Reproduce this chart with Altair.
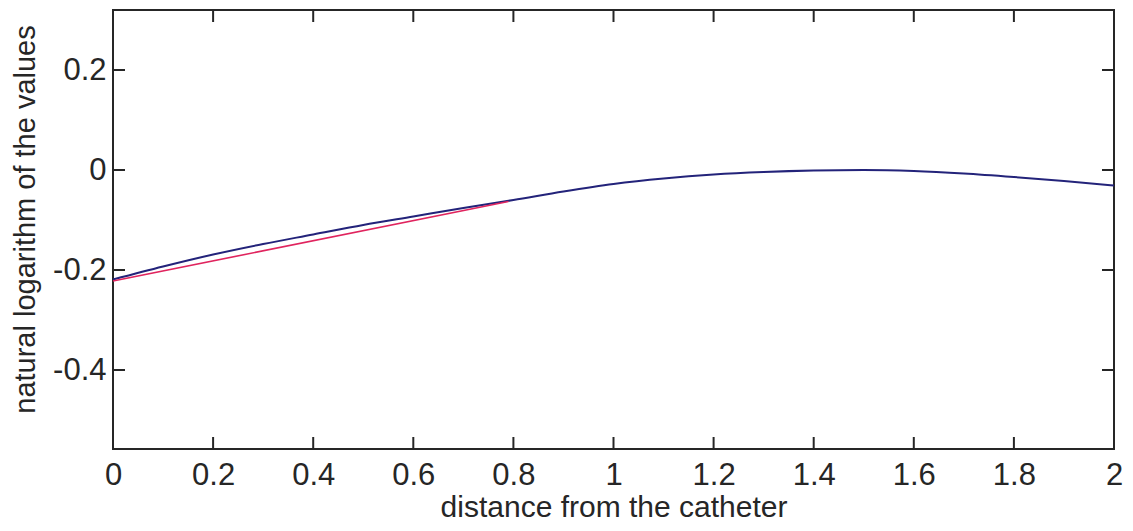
import altair as alt
import pandas as pd

# ---- data ----
blue_x = [0.0, 0.1, 0.2, 0.3, 0.4, 0.5, 0.6, 0.7, 0.8, 0.9, 1.0,
          1.1, 1.2, 1.3, 1.4, 1.5, 1.6, 1.7, 1.8, 1.9, 2.0]
blue_y = [-0.219, -0.193, -0.169, -0.148, -0.129, -0.110, -0.093, -0.076, -0.060, -0.043, -0.028,
          -0.017, -0.009, -0.004, -0.001, 0.000, -0.002, -0.007, -0.014, -0.022, -0.031]
red_x = [0.0, 0.79]
red_y = [-0.222, -0.063]

x_ticks = [0, 0.2, 0.4, 0.6, 0.8, 1.0, 1.2, 1.4, 1.6, 1.8, 2.0]
y_ticks = [-0.4, -0.2, 0, 0.2]

x_domain = [0, 2]
y_domain = [-0.558, 0.32]

W, H = 1001, 439
INK = "#262626"
FONT = "Liberation Sans"

blue_df = pd.DataFrame({"x": blue_x, "y": blue_y})
red_df = pd.DataFrame({"x": red_x, "y": red_y})
xt_df = pd.DataFrame({"x": x_ticks})
yt_df = pd.DataFrame({"y": y_ticks})

xscale = alt.Scale(domain=x_domain, nice=False, zero=False)
yscale = alt.Scale(domain=y_domain, nice=False, zero=False)

label_expr = "toString(round(datum.value*10)/10)"

blue = alt.Chart(blue_df).mark_line(color="#23237a", strokeWidth=2, interpolate="monotone").encode(
    x=alt.X("x:Q", scale=xscale, title="distance from the catheter", axis=alt.Axis(
        values=x_ticks, ticks=False, grid=False, domain=False, labelExpr=label_expr,
        labelFlush=False, labelFont=FONT, labelFontSize=31, labelColor=INK, labelPadding=11,
        titleFont=FONT, titleFontSize=30, titleFontWeight="normal", titleColor=INK,
        titleBaseline="alphabetic", titleY=67)),
    y=alt.Y("y:Q", scale=yscale, title="natural logarithm of the values", axis=alt.Axis(
        values=y_ticks, ticks=False, grid=False, domain=False, labelExpr=label_expr,
        labelFlush=False, labelFont=FONT, labelFontSize=31, labelColor=INK, labelPadding=7,
        titleFont=FONT, titleFontSize=29, titleFontWeight="normal", titleColor=INK,
        titleAngle=270, titleBaseline="middle", titleAlign="center", titleX=-88, titleY=209)),
)

red = alt.Chart(red_df).mark_line(color="#e0245e", strokeWidth=1.6).encode(
    x=alt.X("x:Q", scale=xscale),
    y=alt.Y("y:Q", scale=yscale),
)

tick_len = 12
bottom_ticks = alt.Chart(xt_df).mark_rule(color=INK, strokeWidth=2).encode(
    x=alt.X("x:Q", scale=xscale), y=alt.value(H), y2=alt.value(H - tick_len))
top_ticks = alt.Chart(xt_df).mark_rule(color=INK, strokeWidth=2).encode(
    x=alt.X("x:Q", scale=xscale), y=alt.value(0), y2=alt.value(tick_len))
left_ticks = alt.Chart(yt_df).mark_rule(color=INK, strokeWidth=2).encode(
    y=alt.Y("y:Q", scale=yscale), x=alt.value(0), x2=alt.value(tick_len))
right_ticks = alt.Chart(yt_df).mark_rule(color=INK, strokeWidth=2).encode(
    y=alt.Y("y:Q", scale=yscale), x=alt.value(W), x2=alt.value(W - tick_len))

chart = alt.layer(blue, red, bottom_ticks, top_ticks, left_ticks, right_ticks).properties(
    width=W, height=H,
    padding={"left": 105, "top": 2, "right": 11, "bottom": 74},
    autosize=alt.AutoSizeParams(type="none"),
    background="white",
).configure_view(stroke=INK, strokeWidth=2)

chart.save("out.html", embed_options={"renderer": "svg", "actions": False})
